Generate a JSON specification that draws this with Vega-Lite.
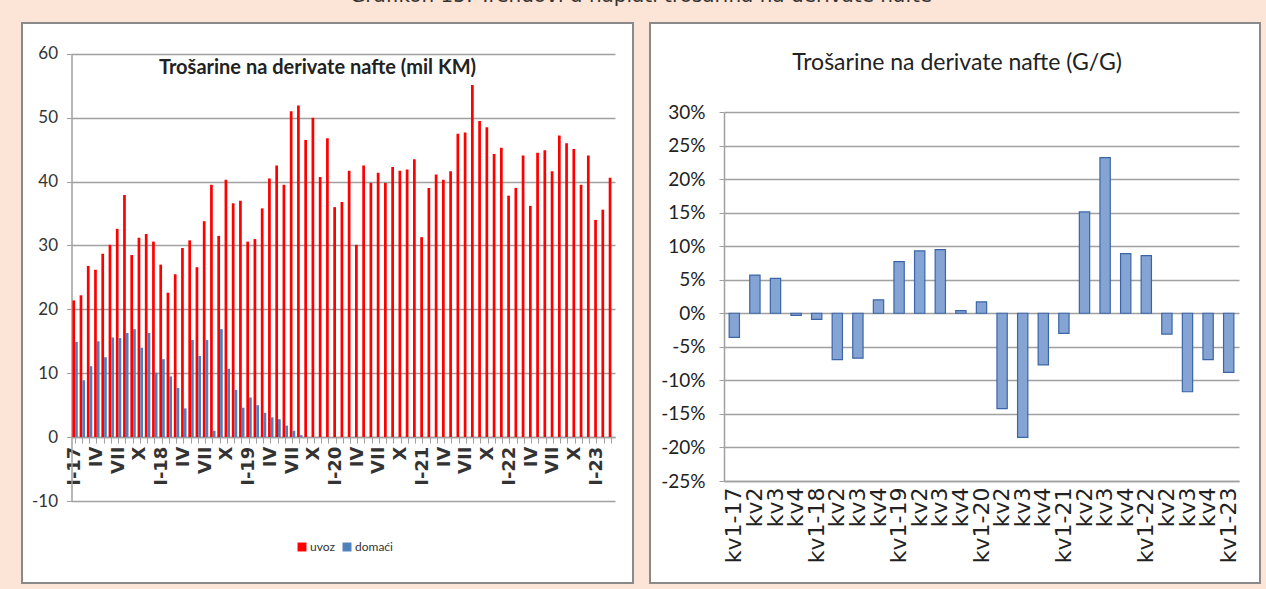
{
  "$schema": "https://vega.github.io/schema/vega-lite/v6.json",
  "background": "#FCE4D6",
  "padding": {"left": 21, "right": 8, "top": -14, "bottom": 7},
  "title": {"text": "Grafikon 15: Trendovi u naplati trošarina na derivate nafte", "font": "DejaVu Sans", "fontSize": 20, "fontWeight": "normal", "color": "#333333", "anchor": "middle", "frame": "bounds", "offset": 16},
  "spacing": 15,
  "datasets": {
    "monthly": [
      {"m":"I-17","s":"uvoz","v":21.4},{"m":"I-17","s":"domaći","v":14.9},
      {"m":"II-17","s":"uvoz","v":22.2},{"m":"II-17","s":"domaći","v":8.9},
      {"m":"III-17","s":"uvoz","v":26.8},{"m":"III-17","s":"domaći","v":11.1},
      {"m":"IV-17","s":"uvoz","v":26.2},{"m":"IV-17","s":"domaći","v":15.0},
      {"m":"V-17","s":"uvoz","v":28.7},{"m":"V-17","s":"domaći","v":12.5},
      {"m":"VI-17","s":"uvoz","v":30.1},{"m":"VI-17","s":"domaći","v":15.6},
      {"m":"VII-17","s":"uvoz","v":32.6},{"m":"VII-17","s":"domaći","v":15.5},
      {"m":"VIII-17","s":"uvoz","v":37.9},{"m":"VIII-17","s":"domaći","v":16.3},
      {"m":"IX-17","s":"uvoz","v":28.5},{"m":"IX-17","s":"domaći","v":16.9},
      {"m":"X-17","s":"uvoz","v":31.2},{"m":"X-17","s":"domaći","v":14.0},
      {"m":"XI-17","s":"uvoz","v":31.8},{"m":"XI-17","s":"domaći","v":16.3},
      {"m":"XII-17","s":"uvoz","v":30.6},{"m":"XII-17","s":"domaći","v":10.1},
      {"m":"I-18","s":"uvoz","v":27.0},{"m":"I-18","s":"domaći","v":12.2},
      {"m":"II-18","s":"uvoz","v":22.6},{"m":"II-18","s":"domaći","v":9.5},
      {"m":"III-18","s":"uvoz","v":25.5},{"m":"III-18","s":"domaći","v":7.7},
      {"m":"IV-18","s":"uvoz","v":29.6},{"m":"IV-18","s":"domaći","v":4.5},
      {"m":"V-18","s":"uvoz","v":30.8},{"m":"V-18","s":"domaći","v":15.2},
      {"m":"VI-18","s":"uvoz","v":26.6},{"m":"VI-18","s":"domaći","v":12.7},
      {"m":"VII-18","s":"uvoz","v":33.8},{"m":"VII-18","s":"domaći","v":15.2},
      {"m":"VIII-18","s":"uvoz","v":39.5},{"m":"VIII-18","s":"domaći","v":1.0},
      {"m":"IX-18","s":"uvoz","v":31.5},{"m":"IX-18","s":"domaći","v":16.9},
      {"m":"X-18","s":"uvoz","v":40.3},{"m":"X-18","s":"domaći","v":10.7},
      {"m":"XI-18","s":"uvoz","v":36.6},{"m":"XI-18","s":"domaći","v":7.4},
      {"m":"XII-18","s":"uvoz","v":37.0},{"m":"XII-18","s":"domaći","v":4.6},
      {"m":"I-19","s":"uvoz","v":30.6},{"m":"I-19","s":"domaći","v":6.2},
      {"m":"II-19","s":"uvoz","v":31.0},{"m":"II-19","s":"domaći","v":5.0},
      {"m":"III-19","s":"uvoz","v":35.8},{"m":"III-19","s":"domaći","v":3.8},
      {"m":"IV-19","s":"uvoz","v":40.5},{"m":"IV-19","s":"domaći","v":3.1},
      {"m":"V-19","s":"uvoz","v":42.5},{"m":"V-19","s":"domaći","v":2.8},
      {"m":"VI-19","s":"uvoz","v":39.5},{"m":"VI-19","s":"domaći","v":1.8},
      {"m":"VII-19","s":"uvoz","v":51.0},{"m":"VII-19","s":"domaći","v":1.0},
      {"m":"VIII-19","s":"uvoz","v":51.9},{"m":"VIII-19","s":"domaći","v":0.3},
      {"m":"IX-19","s":"uvoz","v":46.5},{"m":"IX-19","s":"domaći","v":0},
      {"m":"X-19","s":"uvoz","v":50.0},{"m":"X-19","s":"domaći","v":0},
      {"m":"XI-19","s":"uvoz","v":40.7},{"m":"XI-19","s":"domaći","v":0},
      {"m":"XII-19","s":"uvoz","v":46.8},{"m":"XII-19","s":"domaći","v":0},
      {"m":"I-20","s":"uvoz","v":36.0},{"m":"I-20","s":"domaći","v":0},
      {"m":"II-20","s":"uvoz","v":36.8},{"m":"II-20","s":"domaći","v":0},
      {"m":"III-20","s":"uvoz","v":41.7},{"m":"III-20","s":"domaći","v":0},
      {"m":"IV-20","s":"uvoz","v":30.1},{"m":"IV-20","s":"domaći","v":0},
      {"m":"V-20","s":"uvoz","v":42.5},{"m":"V-20","s":"domaći","v":0},
      {"m":"VI-20","s":"uvoz","v":39.8},{"m":"VI-20","s":"domaći","v":0},
      {"m":"VII-20","s":"uvoz","v":41.4},{"m":"VII-20","s":"domaći","v":0},
      {"m":"VIII-20","s":"uvoz","v":39.8},{"m":"VIII-20","s":"domaći","v":0},
      {"m":"IX-20","s":"uvoz","v":42.3},{"m":"IX-20","s":"domaći","v":0},
      {"m":"X-20","s":"uvoz","v":41.7},{"m":"X-20","s":"domaći","v":0},
      {"m":"XI-20","s":"uvoz","v":41.9},{"m":"XI-20","s":"domaći","v":0},
      {"m":"XII-20","s":"uvoz","v":43.5},{"m":"XII-20","s":"domaći","v":0},
      {"m":"I-21","s":"uvoz","v":31.3},{"m":"I-21","s":"domaći","v":0},
      {"m":"II-21","s":"uvoz","v":39.0},{"m":"II-21","s":"domaći","v":0},
      {"m":"III-21","s":"uvoz","v":41.1},{"m":"III-21","s":"domaći","v":0},
      {"m":"IV-21","s":"uvoz","v":40.3},{"m":"IV-21","s":"domaći","v":0},
      {"m":"V-21","s":"uvoz","v":41.6},{"m":"V-21","s":"domaći","v":0},
      {"m":"VI-21","s":"uvoz","v":47.5},{"m":"VI-21","s":"domaći","v":0},
      {"m":"VII-21","s":"uvoz","v":47.7},{"m":"VII-21","s":"domaći","v":0},
      {"m":"VIII-21","s":"uvoz","v":55.1},{"m":"VIII-21","s":"domaći","v":0},
      {"m":"IX-21","s":"uvoz","v":49.5},{"m":"IX-21","s":"domaći","v":0},
      {"m":"X-21","s":"uvoz","v":48.5},{"m":"X-21","s":"domaći","v":0},
      {"m":"XI-21","s":"uvoz","v":44.3},{"m":"XI-21","s":"domaći","v":0},
      {"m":"XII-21","s":"uvoz","v":45.3},{"m":"XII-21","s":"domaći","v":0},
      {"m":"I-22","s":"uvoz","v":37.8},{"m":"I-22","s":"domaći","v":0},
      {"m":"II-22","s":"uvoz","v":39.0},{"m":"II-22","s":"domaći","v":0},
      {"m":"III-22","s":"uvoz","v":44.1},{"m":"III-22","s":"domaći","v":0},
      {"m":"IV-22","s":"uvoz","v":36.2},{"m":"IV-22","s":"domaći","v":0},
      {"m":"V-22","s":"uvoz","v":44.5},{"m":"V-22","s":"domaći","v":0},
      {"m":"VI-22","s":"uvoz","v":44.9},{"m":"VI-22","s":"domaći","v":0},
      {"m":"VII-22","s":"uvoz","v":41.6},{"m":"VII-22","s":"domaći","v":0},
      {"m":"VIII-22","s":"uvoz","v":47.2},{"m":"VIII-22","s":"domaći","v":0},
      {"m":"IX-22","s":"uvoz","v":46.0},{"m":"IX-22","s":"domaći","v":0},
      {"m":"X-22","s":"uvoz","v":45.1},{"m":"X-22","s":"domaći","v":0},
      {"m":"XI-22","s":"uvoz","v":39.5},{"m":"XI-22","s":"domaći","v":0},
      {"m":"XII-22","s":"uvoz","v":44.1},{"m":"XII-22","s":"domaći","v":0},
      {"m":"I-23","s":"uvoz","v":34.0},{"m":"I-23","s":"domaći","v":0},
      {"m":"II-23","s":"uvoz","v":35.6},{"m":"II-23","s":"domaći","v":0},
      {"m":"III-23","s":"uvoz","v":40.6},{"m":"III-23","s":"domaći","v":0}
    ],
    "quarterly": [
      {"q":"kv1-17","g":-3.6},{"q":"kv2-17","g":5.7},{"q":"kv3-17","g":5.2},{"q":"kv4-17","g":-0.3},
      {"q":"kv1-18","g":-0.9},{"q":"kv2-18","g":-6.9},{"q":"kv3-18","g":-6.7},{"q":"kv4-18","g":2.0},
      {"q":"kv1-19","g":7.7},{"q":"kv2-19","g":9.3},{"q":"kv3-19","g":9.5},{"q":"kv4-19","g":0.4},
      {"q":"kv1-20","g":1.7},{"q":"kv2-20","g":-14.2},{"q":"kv3-20","g":-18.5},{"q":"kv4-20","g":-7.7},
      {"q":"kv1-21","g":-3.0},{"q":"kv2-21","g":15.1},{"q":"kv3-21","g":23.2},{"q":"kv4-21","g":8.9},
      {"q":"kv1-22","g":8.6},{"q":"kv2-22","g":-3.1},{"q":"kv3-22","g":-11.7},{"q":"kv4-22","g":-6.9},
      {"q":"kv1-23","g":-8.8}
    ]
  },
  "hconcat": [
    {
      "width": 611,
      "height": 560,
      "data": {"name": "monthly"},
      "title": {"text": "Trošarine na derivate nafte (mil KM)", "font": "Lato", "fontSize": 20, "fontWeight": "bold", "color": "#222222", "anchor": "middle", "frame": "group", "offset": -55, "dx": -10},
      "mark": {"type": "bar"},
      "encoding": {
        "x": {
          "field": "m", "type": "nominal", "sort": null,
          "scale": {"range": [49.5, 593], "paddingInner": 0.25, "paddingOuter": 0.12},
          "axis": {
            "orient": "bottom", "offset": -145.9, "title": null, "grid": false,
            "labelAngle": 270, "labelOverlap": false,
            "labelExpr": "slice(datum.value,0,2)=='I-' ? datum.value : (slice(datum.value,0,3)=='IV-' || slice(datum.value,0,4)=='VII-' || slice(datum.value,0,2)=='X-') ? split(datum.value,'-')[0] : ''",
            "labelFont": "DejaVu Sans", "labelFontWeight": "bold", "labelFontSize": 18, "labelColor": "#333333", "labelPadding": 3,
            "domain": true, "domainColor": "#A0A0A0", "domainWidth": 1.5,
            "ticks": true, "tickColor": "#A0A0A0", "tickSize": 6, "tickWidth": 1
          }
        },
        "xOffset": {"field": "s", "type": "nominal", "sort": ["uvoz", "domaći"], "scale": {"paddingInner": 0}},
        "y": {
          "field": "v", "type": "quantitative",
          "scale": {"domain": [-10, 60], "range": [478, 30.8], "nice": false, "zero": false},
          "axis": {
            "orient": "left", "offset": -49.5, "title": null,
            "values": [-10, 0, 10, 20, 30, 40, 50, 60],
            "labelExpr": "replace(datum.label, '−', '-')",
            "grid": true, "gridColor": "#A0A0A0", "gridWidth": 1.5,
            "domain": true, "domainColor": "#A0A0A0", "domainWidth": 1.5,
            "ticks": true, "tickColor": "#A0A0A0", "tickSize": 5,
            "labelFont": "Lato", "labelFontSize": 17, "labelColor": "#333333", "labelPadding": 9
          }
        },
        "color": {
          "field": "s", "type": "nominal", "sort": ["uvoz", "domaći"],
          "scale": {"domain": ["uvoz", "domaći"], "range": ["#FF0000", "#4F81BD"]},
          "legend": {"orient": "none", "legendX": 274, "legendY": 518, "direction": "horizontal", "title": null, "symbolType": "square", "symbolSize": 80, "symbolStrokeWidth": 0, "labelFont": "Lato", "labelFontSize": 12, "labelColor": "#333333", "columnPadding": 6, "labelOffset": 2}
        }
      }
    },
    {
      "width": 610,
      "height": 560,
      "data": {"name": "quarterly"},
      "title": {"text": "Trošarine na derivate nafte (G/G)", "font": "Lato", "fontSize": 23, "fontWeight": "normal", "color": "#222222", "anchor": "middle", "frame": "group", "offset": -52, "dx": 2},
      "mark": {"type": "bar", "fill": "#86A4D3", "stroke": "#3A66A8", "strokeWidth": 1.2},
      "encoding": {
        "x": {
          "field": "q", "type": "nominal", "sort": null,
          "scale": {"range": [74, 589], "paddingInner": 0.5, "paddingOuter": 0.25},
          "axis": {
            "orient": "bottom", "offset": -102, "title": null, "grid": false,
            "labelAngle": 270, "labelOverlap": false,
            "labelExpr": "slice(datum.value,0,3)=='kv1' ? datum.value : slice(datum.value,0,3)",
            "labelFont": "DejaVu Sans", "labelFontSize": 22, "labelColor": "#222222", "labelPadding": 6,
            "domain": true, "domainColor": "#A0A0A0", "domainWidth": 1.5,
            "ticks": false
          }
        },
        "y": {
          "field": "g", "type": "quantitative",
          "scale": {"domain": [-25, 30], "range": [458, 89], "nice": false, "zero": false},
          "axis": {
            "orient": "left", "offset": -74, "title": null,
            "values": [-25, -20, -15, -10, -5, 0, 5, 10, 15, 20, 25, 30],
            "labelExpr": "replace(format(datum.value, 'd'), '−', '-') + '%'",
            "grid": true, "gridColor": "#A0A0A0", "gridWidth": 1.5,
            "domain": true, "domainColor": "#A0A0A0", "domainWidth": 1.5,
            "ticks": true, "tickColor": "#A0A0A0", "tickSize": 5,
            "labelFont": "Lato", "labelFontSize": 19, "labelColor": "#222222", "labelPadding": 14
          }
        }
      }
    }
  ],
  "config": {
    "view": {"fill": "#FFFFFF", "stroke": "#8A8A8A", "strokeWidth": 2}
  }
}
